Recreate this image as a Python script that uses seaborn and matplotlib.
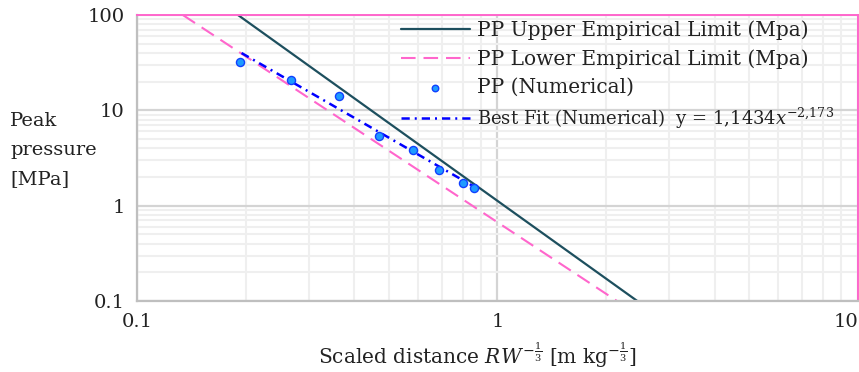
import numpy as np
import pandas as pd
import matplotlib
matplotlib.use("Agg")
import matplotlib.pyplot as plt
import seaborn as sns
from matplotlib.ticker import LogLocator, FixedLocator, FixedFormatter, NullFormatter

# ---- data ----
num_x = [0.193, 0.2675, 0.363, 0.469, 0.583, 0.688, 0.802, 0.863]
num_y = [32.1, 20.8, 14.1, 5.38, 3.84, 2.34, 1.73, 1.53]

upper_x = [0.1906, 2.442]
upper_y = [100.0, 0.1]
lower_x = [0.134, 2.145]
lower_y = [100.0, 0.1]

fit_x = [0.195, 0.865]
fit_y = [39.9, 1.566]

x_ticks = [0.1, 1, 10]
x_tick_labels = ["0.1", "1", "10"]
y_ticks = [0.1, 1, 10, 100]
y_tick_labels = ["0.1", "1", "10", "100"]

label_upper = "PP Upper Empirical Limit (Mpa)"
label_lower = "PP Lower Empirical Limit (Mpa)"
label_num = "PP (Numerical)"
label_fit = r"Best Fit (Numerical)  y = 1,1434$x^{-2{,}173}$"

sns.set_style("white")
plt.rcParams["font.family"] = ["DejaVu Serif"]
plt.rcParams["mathtext.fontset"] = "dejavuserif"

fig = plt.figure(figsize=(8.59, 3.72), dpi=100)
ax = fig.add_axes([0.1595, 0.1909, 0.8393, 0.7688])

ax.set_xscale("log")
ax.set_yscale("log")
ax.set_xlim(0.1, 10)
ax.set_ylim(0.1, 100)

# grid
ax.xaxis.set_major_locator(FixedLocator(x_ticks))
ax.yaxis.set_major_locator(FixedLocator(y_ticks))
ax.xaxis.set_major_formatter(FixedFormatter(x_tick_labels))
ax.yaxis.set_major_formatter(FixedFormatter(y_tick_labels))
ax.xaxis.set_minor_locator(LogLocator(base=10, subs=np.arange(2, 10)))
ax.yaxis.set_minor_locator(LogLocator(base=10, subs=np.arange(2, 10)))
ax.xaxis.set_minor_formatter(NullFormatter())
ax.yaxis.set_minor_formatter(NullFormatter())
ax.grid(which="major", color="#D4D4D4", linewidth=1.6, zorder=0)
ax.grid(which="minor", color="#EFEFEF", linewidth=1.5, zorder=0)
ax.set_axisbelow(True)
ax.tick_params(which="both", length=0, labelsize=14, colors="#222222")
ax.tick_params(axis="x", pad=9)
ax.tick_params(axis="y", pad=9)

df_up = pd.DataFrame({"x": upper_x, "y": upper_y})
df_lo = pd.DataFrame({"x": lower_x, "y": lower_y})
df_num = pd.DataFrame({"x": num_x, "y": num_y})
df_fit = pd.DataFrame({"x": fit_x, "y": fit_y})

sns.lineplot(data=df_up, x="x", y="y", ax=ax, color="#1D4F5E", linewidth=1.6,
             label=label_upper, sort=False)
sns.lineplot(data=df_lo, x="x", y="y", ax=ax, color="#FF66CC", linewidth=1.5,
             label=label_lower, sort=False)
ax.lines[-1].set_dashes((7, 3.8))
sns.scatterplot(data=df_num, x="x", y="y", ax=ax, color="#1E9BFF",
                edgecolor="#1040FF", linewidth=1.0, s=34, label=label_num, zorder=4)
sns.lineplot(data=df_fit, x="x", y="y", ax=ax, color="#0000FF", linewidth=1.8,
             label=label_fit, sort=False, zorder=3)
ax.lines[-1].set_dashes((3.3, 2, 0.8, 2))

ax.set_xlabel("")
ax.set_ylabel("")

# right-align last x tick label so it stays inside the figure
xt = ax.get_xticklabels()
xt[-1].set_horizontalalignment("right")

# spines
for s in ["left", "bottom"]:
    ax.spines[s].set_color("#BFBFBF")
    ax.spines[s].set_linewidth(1.6)
for s in ["top", "right"]:
    ax.spines[s].set_color("#FF66CC")
    ax.spines[s].set_linewidth(1.4)

leg = ax.legend(loc="upper left", bbox_to_anchor=(0.346, 1.03), frameon=False,
                fontsize=14.5, handlelength=3.45, handletextpad=0.35,
                labelspacing=0.45, borderpad=0.2, markerscale=0.8)
for t in leg.get_texts():
    t.set_color("#222222")
leg.get_texts()[3].set_fontsize(13.0)

fig.text(0.012, 0.597, "Peak\npressure\n[MPa]", fontsize=14, ha="left", va="center",
         linespacing=1.8, color="#222222")
fig.text(0.555, 0.045,
         r"Scaled distance $RW^{-\frac{1}{3}}$ [m kg$^{-\frac{1}{3}}$]",
         fontsize=14.5, ha="center", va="center", color="#222222")

fig.savefig("out.png", dpi=100)
